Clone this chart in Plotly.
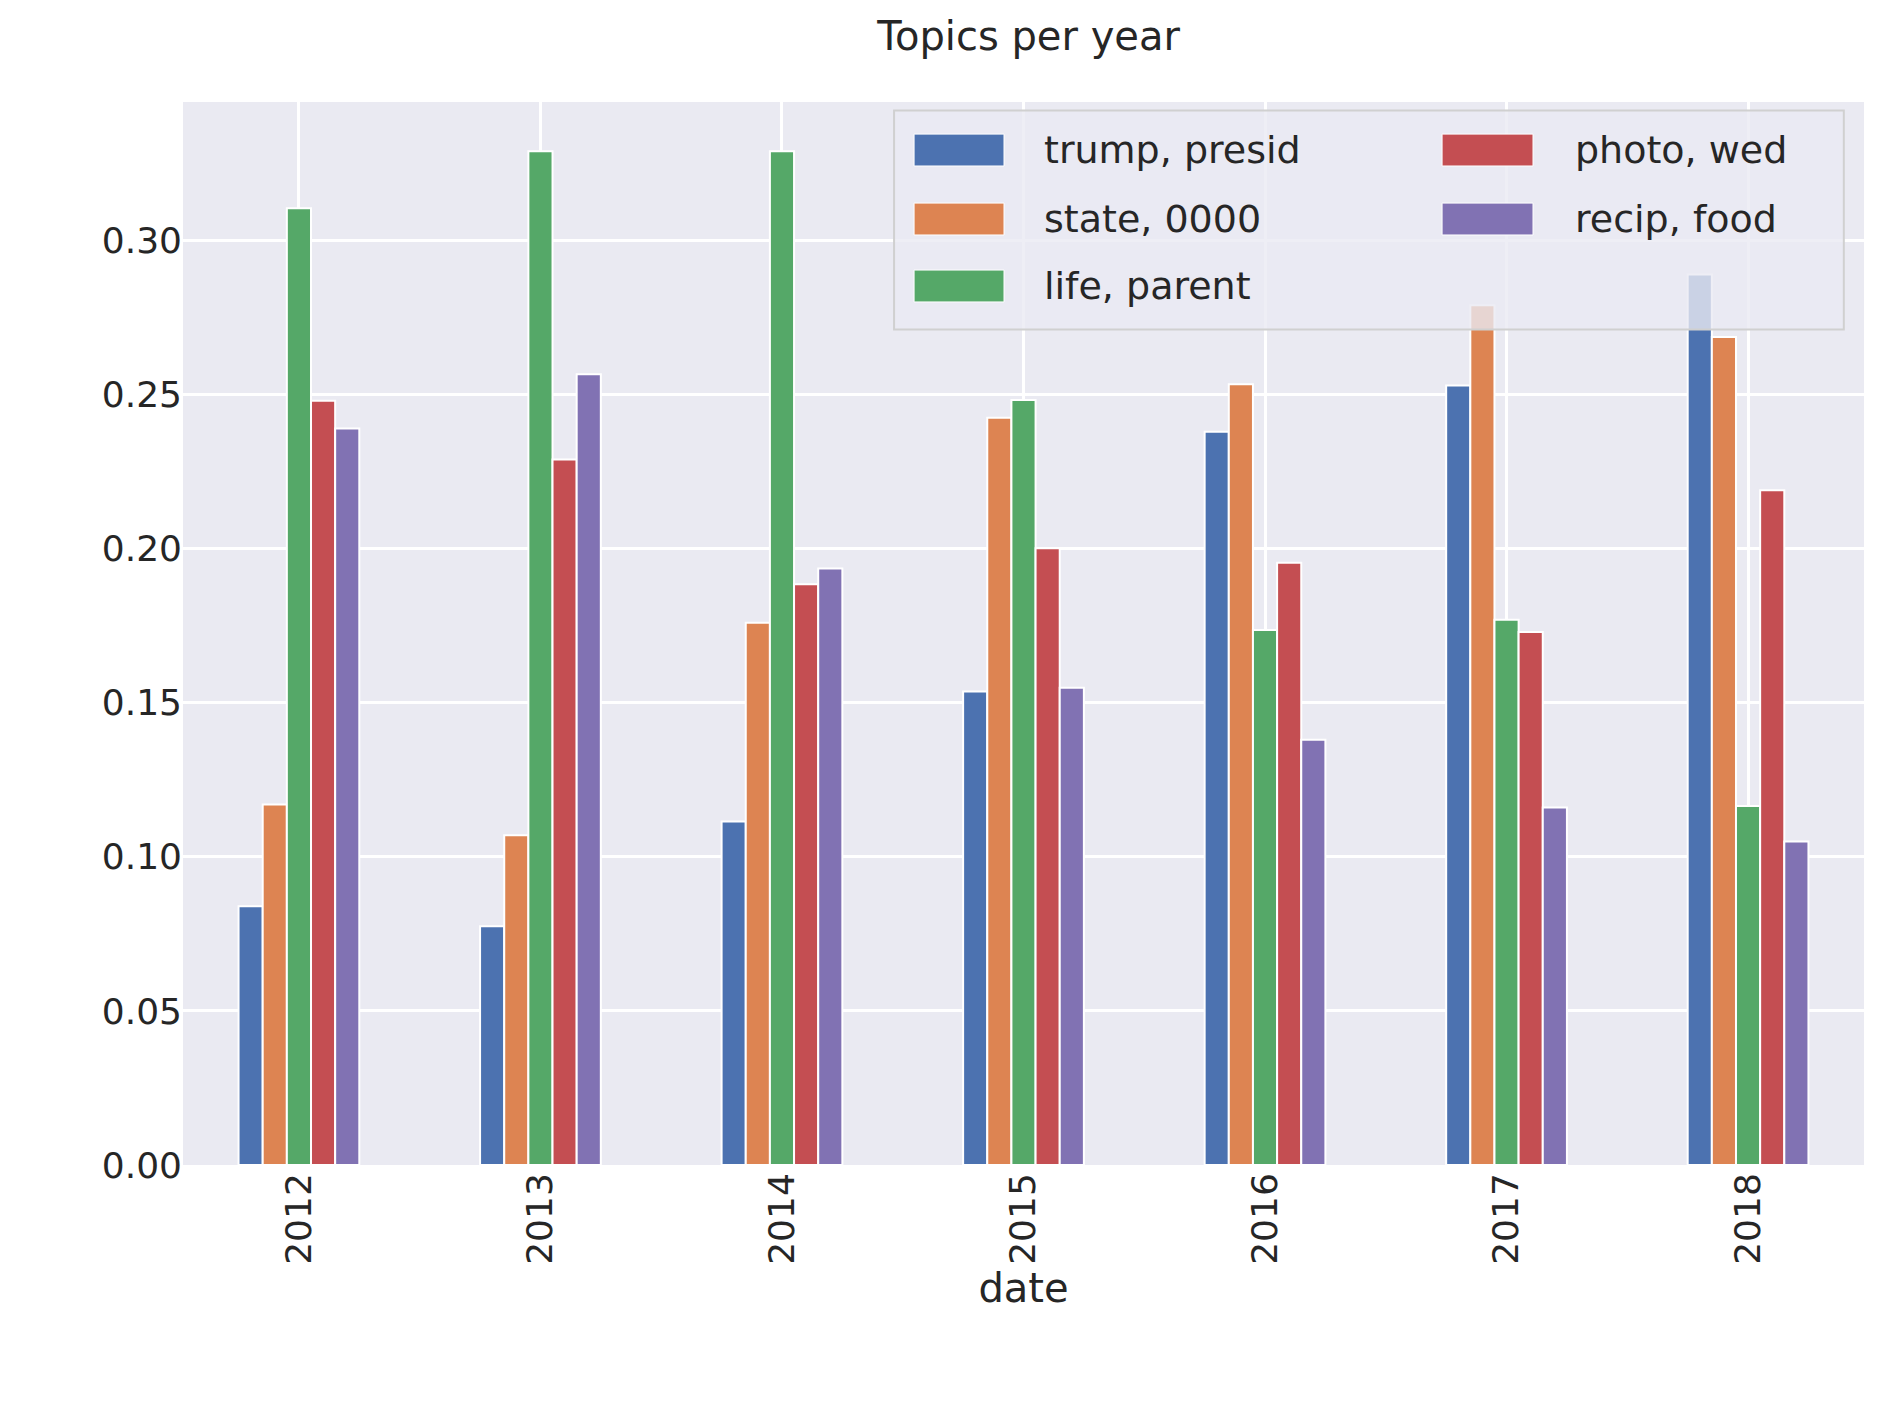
import plotly.graph_objects as go

years = ["2012", "2013", "2014", "2015", "2016", "2017", "2018"]
topics = ["trump, presid", "state, 0000", "life, parent", "photo, wed", "recip, food"]
trump = [0.084, 0.0775, 0.1115, 0.1537, 0.238, 0.253, 0.289]
state = [0.117, 0.107, 0.176, 0.2425, 0.2534, 0.279, 0.2687]
life = [0.3105, 0.329, 0.329, 0.2483, 0.1736, 0.177, 0.1165]
photo = [0.248, 0.229, 0.1885, 0.2002, 0.1955, 0.173, 0.219]
recip = [0.239, 0.2566, 0.1936, 0.1549, 0.138, 0.116, 0.105]
colors = ["#4C72B0", "#DD8452", "#55A868", "#C44E52", "#8172B3"]

fig = go.Figure()
for i, (name, vals) in enumerate(zip(topics, [trump, state, life, photo, recip])):
    fig.add_trace(go.Bar(
        x=years, y=vals, name=name, marker_color=colors[i],
        marker_line_color="white", marker_line_width=2, showlegend=False,
    ))

# hand-drawn legend (matplotlib style, two columns)
shapes = [dict(type="rect", xref="paper", yref="paper", x0=0.423, x1=0.988,
               y0=0.786, y1=0.992, fillcolor="rgba(234,234,242,0.8)",
               line=dict(color="#D0D0D0", width=2), layer="above")]
annotations = []
rows = [0.9548, 0.8899, 0.8269]
cols = [(0.4349, 0.4884, 0.511), (0.7490, 0.8031, 0.8269)]
for i, name in enumerate(topics):
    c = cols[0] if i < 3 else cols[1]
    r = rows[i if i < 3 else i - 3]
    shapes.append(dict(type="rect", xref="paper", yref="paper", x0=c[0], x1=c[1],
                       y0=r - 0.015, y1=r + 0.015, fillcolor=colors[i],
                       line=dict(color="white", width=1), layer="above"))
    annotations.append(dict(xref="paper", yref="paper", x=c[2], y=r, text=name,
                            showarrow=False, xanchor="left", yanchor="middle",
                            font=dict(size=38, color="#262626")))

fig.update_layout(
    width=1890, height=1409,
    margin=dict(l=175, r=34, t=94, b=252),
    barmode="group", bargap=0.5, bargroupgap=0,
    plot_bgcolor="#EAEAF2", paper_bgcolor="white",
    font=dict(family="DejaVu Sans", size=36, color="#262626"),
    title=dict(text="Topics per year", x=0.54, xanchor="center", y=0.99, yanchor="top",
               font=dict(size=40)),
    xaxis=dict(title=dict(text="date", font=dict(size=40), standoff=8), tickangle=-90,
               showgrid=True, gridcolor="white", gridwidth=2.5, range=[-0.48, 6.48],
               ticks="", zeroline=False),
    yaxis=dict(range=[0, 0.345], dtick=0.05, tickformat=".2f", gridcolor="white",
               gridwidth=2.5, zeroline=False, ticks=""),
    shapes=shapes,
    annotations=annotations,
)
fig.write_html("out.html")
